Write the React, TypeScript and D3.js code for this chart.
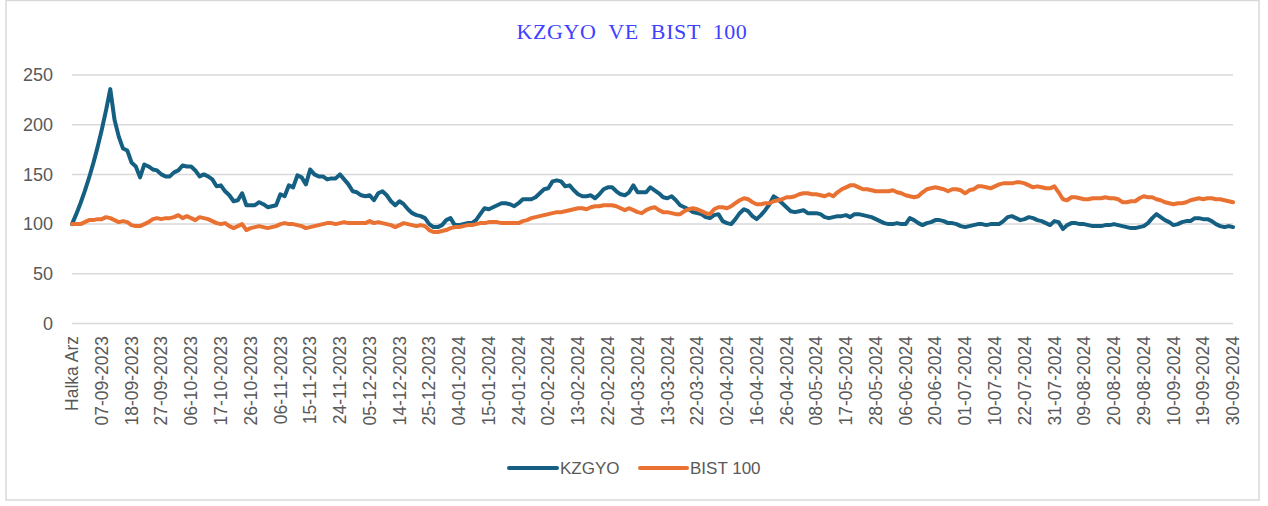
import React from 'react';
import * as d3 from 'd3';

const WIDTH = 1268;
const HEIGHT = 506;

// tick labels, one every 7 trading days
const tickLabels = [
  'Halka Arz', '07-09-2023', '18-09-2023', '27-09-2023', '06-10-2023', '17-10-2023',
  '26-10-2023', '06-11-2023', '15-11-2023', '24-11-2023', '05-12-2023', '14-12-2023',
  '25-12-2023', '04-01-2024', '15-01-2024', '24-01-2024', '02-02-2024', '13-02-2024',
  '22-02-2024', '04-03-2024', '13-03-2024', '22-03-2024', '02-04-2024', '16-04-2024',
  '26-04-2024', '08-05-2024', '17-05-2024', '28-05-2024', '06-06-2024', '20-06-2024',
  '01-07-2024', '10-07-2024', '22-07-2024', '31-07-2024', '09-08-2024', '20-08-2024',
  '29-08-2024', '10-09-2024', '19-09-2024', '30-09-2024'
];
const labelStep = 7;

const yTicks = [0, 50, 100, 150, 200, 250];

const kzgyo = [
  100, 110, 121, 133.1, 146.4, 161.1, 177.2, 194.9, 214.4, 235.8,
  205, 188, 176, 174, 162, 158, 147, 160, 158, 155,
  154, 150, 148, 148, 152, 154, 159, 158, 158, 154,
  148, 150, 148, 145, 138, 139, 133, 129, 123, 124,
  131, 119, 119, 119, 122, 120, 117, 118, 119, 130,
  128, 139, 137, 149, 147, 140, 155, 150, 148, 148,
  145, 146, 146, 150, 145, 140, 133, 132,
  129, 128, 129, 124, 131, 133, 129, 123, 119, 123,
  120, 115, 111, 109, 108, 106, 100, 97, 97, 99,
  104, 106, 99, 99, 100, 101, 101, 104, 110, 116,
  115, 117, 119, 121, 121, 120, 118, 121, 125, 125,
  125, 127, 131, 135, 136, 143, 144, 143, 138, 139,
  134, 130, 128, 128, 129, 126, 130, 135, 137, 137,
  133, 130, 129, 132, 139, 132, 132, 132,
  137, 134, 131, 127, 126, 128, 124, 119, 117, 115,
  112, 111, 110, 107, 106, 109, 110, 103, 101, 100,
  105, 111, 115, 113, 108, 105, 109, 114, 120, 128,
  125, 121, 117, 113, 112, 113, 114, 111, 111, 111,
  110, 107, 106, 107, 108, 108, 109, 107, 110, 110,
  109, 108, 107, 105, 103, 101, 100, 100, 101, 100,
  100, 106, 104, 101, 99, 101, 102, 104, 104, 103,
  101, 101, 100,
  98, 97, 98, 99, 100, 100, 99, 100, 100, 100,
  103, 107, 108, 106, 104, 105, 107, 106, 104, 103,
  101, 99, 103, 102, 95, 99, 101, 101, 100, 100,
  99, 98, 98, 98, 99, 99, 100, 99, 98, 97,
  96, 96, 97, 98, 101, 106, 110, 107, 104, 102,
  99, 100, 102, 103, 103, 106, 106, 105, 105, 103,
  100, 98, 97, 98, 97
];

const bist100 = [
  100, 100, 100, 102, 104, 104, 105, 105, 107, 106,
  104, 102, 103, 102, 99, 98, 98, 100, 102, 105,
  106, 105, 106, 106, 107, 109, 106, 108, 106, 104,
  107, 106, 105, 103, 101, 100, 101, 98, 96, 98,
  100, 94, 96, 97, 98, 97, 96, 97, 98, 100,
  101, 100, 100, 99, 98, 96, 97, 98, 99, 100,
  101, 101, 100, 101, 102, 101, 101, 101,
  101, 101, 103, 101, 102, 101, 100, 99, 97, 99,
  101, 100, 99, 98, 99, 98, 94, 92, 92, 93,
  94, 96, 97, 97, 98, 99, 99, 100, 101, 101,
  102, 102, 102, 101, 101, 101, 101, 101, 103, 104,
  106, 107, 108, 109, 110, 111, 112, 112, 113, 114,
  115, 116, 116, 115, 117, 118, 118, 119, 119, 119,
  118, 116, 114, 116, 114, 112, 111, 114,
  116, 117, 114, 112, 112, 111, 110, 110, 113, 115,
  116, 115, 113, 111, 110, 115, 117, 117, 116, 118,
  121, 124, 126, 125, 122, 120, 120, 121, 121, 123,
  124, 125, 127, 127, 128, 130, 131, 131, 130, 130,
  129, 128, 130, 128, 132, 135, 137, 139, 139, 137,
  135, 135, 134, 133, 133, 133, 133, 134, 132, 131,
  129, 128, 127, 128, 132, 135, 136, 137, 136, 135,
  133, 135, 135,
  134, 131, 134, 135, 138, 138, 137, 136, 138, 140,
  141, 141, 141, 142, 142, 141, 139, 137, 138, 137,
  136, 136, 138, 132, 125, 124, 127, 127, 126, 125,
  125, 126, 126, 126, 127, 126, 126, 125, 122, 122,
  123, 123, 126, 128, 127, 127, 125, 124, 122, 121,
  120, 121, 121, 122, 124, 125, 126, 125, 126, 126,
  125, 125, 124, 123, 122
];

const series = [
  { name: 'KZGYO', values: kzgyo, color: '#156082' },
  { name: 'BIST 100', values: bist100, color: '#E97132' }
];

const plot = { left: 72, right: 1233, top: 75, bottom: 323.5 };
const textColor = '#595959';
const gridColor = '#d9d9d9';
const sans = '"Liberation Sans", Arial, sans-serif';

export default function App() {
  const x = d3.scaleLinear().domain([0, kzgyo.length - 1]).range([plot.left, plot.right]);
  const y = d3.scaleLinear().domain([0, 250]).range([plot.bottom, plot.top]);

  const line = d3
    .line<number>()
    .x((d, i) => x(i))
    .y(d => y(d));

  return (
    <div style={{ position: 'absolute', left: 0, top: 0 }}>
      <svg width={WIDTH} height={HEIGHT} style={{ display: 'block', background: '#fff' }}>
        <rect x={6} y={0.5} width={1253} height={499.5} fill="#fff" stroke={gridColor} strokeWidth={1.5} />

        <text
          x={632}
          y={39}
          textAnchor="middle"
          fill="#4040ff"
          style={{ fontFamily: '"Liberation Serif", "Times New Roman", serif', fontSize: 22, letterSpacing: 0.6, wordSpacing: 6 }}>
          KZGYO VE BIST 100
        </text>

        {yTicks.map(t => (
          <g key={t}>
            <line x1={plot.left} x2={plot.right} y1={y(t)} y2={y(t)} stroke={gridColor} strokeWidth={1.5} />
            <text
              x={53}
              y={y(t)}
              dy="0.35em"
              textAnchor="end"
              fill={textColor}
              style={{ fontFamily: sans, fontSize: 18 }}>
              {t}
            </text>
          </g>
        ))}

        {tickLabels.map((label, k) => (
          <text
            key={label}
            transform={`translate(${x(k * labelStep)},336) rotate(-90)`}
            dy="0.35em"
            textAnchor="end"
            fill={textColor}
            style={{ fontFamily: sans, fontSize: 17.5 }}>
            {label}
          </text>
        ))}

        {series.map(s => (
          <path
            key={s.name}
            d={line(s.values) || ''}
            fill="none"
            stroke={s.color}
            strokeWidth={4}
            strokeLinejoin="round"
            strokeLinecap="round"
          />
        ))}

        <g>
          <line x1={509} x2={557} y1={468} y2={468} stroke={series[0].color} strokeWidth={4} strokeLinecap="round" />
          <text x={560} y={474} fill={textColor} style={{ fontFamily: sans, fontSize: 17 }}>
            {series[0].name}
          </text>
          <line x1={640} x2={687} y1={468} y2={468} stroke={series[1].color} strokeWidth={4} strokeLinecap="round" />
          <text x={690} y={474} fill={textColor} style={{ fontFamily: sans, fontSize: 17 }}>
            {series[1].name}
          </text>
        </g>
      </svg>
    </div>
  );
}
